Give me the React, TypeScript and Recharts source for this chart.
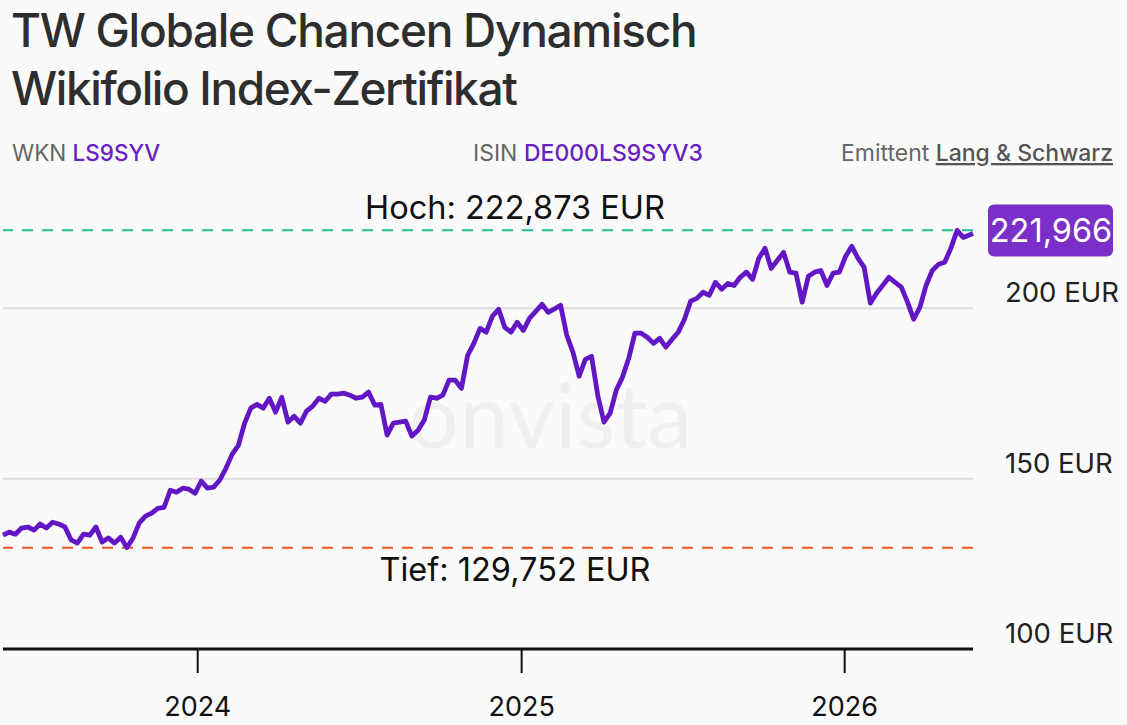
import { LineChart, Line, XAxis, YAxis, ReferenceLine } from 'recharts';

// weekly closes (Fridays), last entry is the latest quote
const dates = [
  '2023-05-26',
  '2023-06-02', '2023-06-09', '2023-06-16', '2023-06-23', '2023-06-30',
  '2023-07-07', '2023-07-14', '2023-07-21', '2023-07-28',
  '2023-08-04', '2023-08-11', '2023-08-18', '2023-08-25',
  '2023-09-01', '2023-09-08', '2023-09-15', '2023-09-22', '2023-09-29',
  '2023-10-06', '2023-10-13', '2023-10-20', '2023-10-27',
  '2023-11-03', '2023-11-10', '2023-11-17', '2023-11-24',
  '2023-12-01', '2023-12-08', '2023-12-15', '2023-12-22', '2023-12-29',
  '2024-01-05', '2024-01-12', '2024-01-19', '2024-01-26',
  '2024-02-02', '2024-02-09', '2024-02-16', '2024-02-23',
  '2024-03-01', '2024-03-08', '2024-03-15', '2024-03-22', '2024-03-29',
  '2024-04-05', '2024-04-12', '2024-04-19', '2024-04-26',
  '2024-05-03', '2024-05-10', '2024-05-17', '2024-05-24', '2024-05-31',
  '2024-06-07', '2024-06-14', '2024-06-21', '2024-06-28',
  '2024-07-05', '2024-07-12', '2024-07-19', '2024-07-26',
  '2024-08-02', '2024-08-09', '2024-08-16', '2024-08-23', '2024-08-30',
  '2024-09-06', '2024-09-13', '2024-09-20', '2024-09-27',
  '2024-10-04', '2024-10-11', '2024-10-18', '2024-10-25',
  '2024-11-01', '2024-11-08', '2024-11-15', '2024-11-22', '2024-11-29',
  '2024-12-06', '2024-12-13', '2024-12-20', '2024-12-27',
  '2025-01-03', '2025-01-10', '2025-01-17', '2025-01-24', '2025-01-31',
  '2025-02-07', '2025-02-14', '2025-02-21', '2025-02-28',
  '2025-03-07', '2025-03-14', '2025-03-21', '2025-03-28',
  '2025-04-04', '2025-04-11', '2025-04-18', '2025-04-25',
  '2025-05-02', '2025-05-09', '2025-05-16', '2025-05-23', '2025-05-30',
  '2025-06-06', '2025-06-13', '2025-06-20', '2025-06-27',
  '2025-07-04', '2025-07-11', '2025-07-18', '2025-07-25',
  '2025-08-01', '2025-08-08', '2025-08-15', '2025-08-22', '2025-08-29',
  '2025-09-05', '2025-09-12', '2025-09-19', '2025-09-26',
  '2025-10-03', '2025-10-10', '2025-10-17', '2025-10-24', '2025-10-31',
  '2025-11-07', '2025-11-14', '2025-11-21', '2025-11-28',
  '2025-12-05', '2025-12-12', '2025-12-19', '2025-12-26',
  '2026-01-02', '2026-01-09', '2026-01-16', '2026-01-23', '2026-01-30',
  '2026-02-06', '2026-02-13', '2026-02-20', '2026-02-27',
  '2026-03-06', '2026-03-13', '2026-03-20', '2026-03-27',
  '2026-04-03', '2026-04-10', '2026-04-17', '2026-04-24',
  '2026-05-01', '2026-05-08', '2026-05-15', '2026-05-26',
];

const prices = [
  133.4, 134.3, 133.7, 135.5, 135.8, 134.9, 136.7, 135.5, 137.2, 136.7,
  135.8, 132.0, 131.1, 133.7, 133.4, 135.8, 131.4, 132.6, 131.1, 132.8,
  129.752, 132.6, 137.0, 139.0, 139.9, 141.3, 141.6, 146.6, 146.0, 147.2,
  146.9, 145.7, 149.3, 147.2, 147.5, 149.6, 153.1, 157.2, 159.8, 166.3,
  170.7, 171.8, 170.7, 173.6, 169.5, 173.9, 166.6, 168.3, 166.3, 169.8,
  171.3, 173.6, 172.7, 174.8, 174.8, 175.1, 174.5, 173.6, 173.9, 175.4,
  171.6, 171.8, 162.8, 166.3, 166.6, 166.9, 162.5, 164.2, 167.2, 173.9,
  173.6, 174.5, 178.9, 178.9, 176.5, 186.2, 189.7, 194.1, 193.0, 197.7,
  199.7, 194.4, 193.0, 195.9, 193.5, 197.1, 199.1, 201.2, 198.8, 199.8,
  200.9, 192.1, 187.1, 180.1, 185.0, 185.9, 174.5, 166.6, 169.2, 176.0,
  179.8, 185.3, 192.7, 192.7, 191.5, 189.7, 191.2, 188.6, 190.9, 193.0,
  196.8, 202.1, 202.9, 204.7, 203.8, 207.6, 205.6, 207.3, 206.7, 209.1,
  210.6, 208.5, 214.7, 217.6, 211.7, 214.1, 216.4, 210.6, 210.3, 201.8,
  209.4, 210.6, 211.1, 206.7, 210.3, 210.6, 215.2, 218.2, 214.7, 212.0,
  201.5, 204.4, 206.7, 209.1, 207.6, 206.2, 201.8, 196.8, 200.3, 206.7,
  211.1, 212.9, 213.5, 217.6, 222.873, 220.8, 221.966,
];

const yearTicks = ['2024-01-01', '2025-01-01', '2026-01-01'];
const priceTicks = [100, 150, 200];
const gridLines = [150, 200];
const HIGH = 222.873;
const LOW = 129.752;
const LAST = 221.966;

const fmt = (v: number) => v.toFixed(3).replace('.', ',');

const data = dates.map((d, i) => ({ t: Date.parse(d), price: prices[i] }));

const FONT = 'Inter, "Noto Sans", sans-serif';
const PURPLE = '#6a1fc2';

function YearTick({ x, y, payload }: any) {
  return (
    <text x={x} y={y + 43} textAnchor="middle" fontSize={27} fill="#111" fontFamily={FONT}>
      {new Date(payload.value).getUTCFullYear()}
    </text>
  );
}

function PriceTick({ x, y, payload }: any) {
  return (
    <text x={x + 32} y={y - 6} fontSize={27.5} fill="#222" fontFamily={FONT}>
      {payload.value} EUR
    </text>
  );
}

const hochLabel = ({ viewBox }: any) => (
  <text x={515} y={viewBox.y - 11} textAnchor="middle" fontSize={32.5} fill="#111" fontFamily={FONT}>
    Hoch: {fmt(HIGH)} EUR
  </text>
);

const tiefLabel = ({ viewBox }: any) => (
  <text x={515} y={viewBox.y + 33} textAnchor="middle" fontSize={32.5} fill="#111" fontFamily={FONT}>
    Tief: {fmt(LOW)} EUR
  </text>
);

const lastBadge = ({ viewBox }: any) => (
  <g>
    <rect x={988} y={viewBox.y - 29} width={125} height={52} rx={6} fill="#7a2fc8" />
    <text x={1051} y={viewBox.y + 9} textAnchor="middle" fontSize={32.5} fill="#fff" fontFamily={FONT}>
      {fmt(LAST)}
    </text>
  </g>
);

export default function App() {
  return (
    <div style={{ position: 'absolute', left: 0, top: 0, width: 1127, height: 725, background: '#fafafa', overflow: 'hidden' }}>
      <svg width={1127} height={725} style={{ position: 'absolute', left: 0, top: 0 }}>
        <text x={11} y={47} fontSize={46} fontWeight={500} letterSpacing={-1.3} fill="#2e2e2e" fontFamily={FONT}>
          TW Globale Chancen Dynamisch
        </text>
        <text x={11} y={105} fontSize={46} fontWeight={500} letterSpacing={-1.4} fill="#2e2e2e" fontFamily={FONT}>
          Wikifolio Index-Zertifikat
        </text>
        <text x={12} y={161} fontSize={22.5} fill="#666" fontFamily={FONT}>
          WKN <tspan fill={PURPLE} fontWeight={500}>LS9SYV</tspan>
        </text>
        <text x={473} y={161} fontSize={23} fill="#666" fontFamily={FONT}>
          ISIN <tspan fill={PURPLE} fontWeight={500}>DE000LS9SYV3</tspan>
        </text>
        <text x={1113} y={161} textAnchor="end" fontSize={23} fill="#666" fontFamily={FONT}>
          Emittent <tspan fill="#555" fontWeight={500} textDecoration="underline">Lang &amp; Schwarz</tspan>
        </text>
        <text x={408} y={448} fontSize={90} fill="#efefef" fontFamily='Lato, "Open Sans", sans-serif'>
          onvista
        </text>
      </svg>
      <div style={{ position: 'absolute', left: 0, top: 0 }}>
        <LineChart width={1127} height={725} data={data} margin={{ top: 172, right: 0, bottom: 0, left: 3 }}>
          <XAxis
            dataKey="t"
            type="number"
            scale="time"
            domain={['dataMin', 'dataMax']}
            ticks={yearTicks.map((d) => Date.parse(d))}
            height={76}
            tickSize={24}
            tickMargin={0}
            axisLine={{ stroke: '#111', strokeWidth: 3 }}
            tickLine={{ stroke: '#111', strokeWidth: 2 }}
            tick={<YearTick />}
          />
          <YAxis
            orientation="right"
            width={154}
            domain={[100, 240]}
            ticks={priceTicks}
            axisLine={false}
            tickLine={false}
            tickSize={0}
            tickMargin={0}
            tick={<PriceTick />}
          />
          {gridLines.map((v) => (
            <ReferenceLine key={v} y={v} stroke="#dddddd" strokeWidth={2} />
          ))}
          <ReferenceLine y={HIGH} stroke="#1fbf8f" strokeWidth={2} strokeDasharray="11 9" label={hochLabel} />
          <ReferenceLine y={LOW} stroke="#f2521c" strokeWidth={2} strokeDasharray="11 9" label={tiefLabel} />
          <Line
            type="linear"
            dataKey="price"
            stroke="#6316c4"
            strokeWidth={4.8}
            strokeLinejoin="round"
            dot={false}
            isAnimationActive={false}
          />
          <ReferenceLine y={LAST} stroke="none" ifOverflow="visible" label={lastBadge} />
        </LineChart>
      </div>
    </div>
  );
}
